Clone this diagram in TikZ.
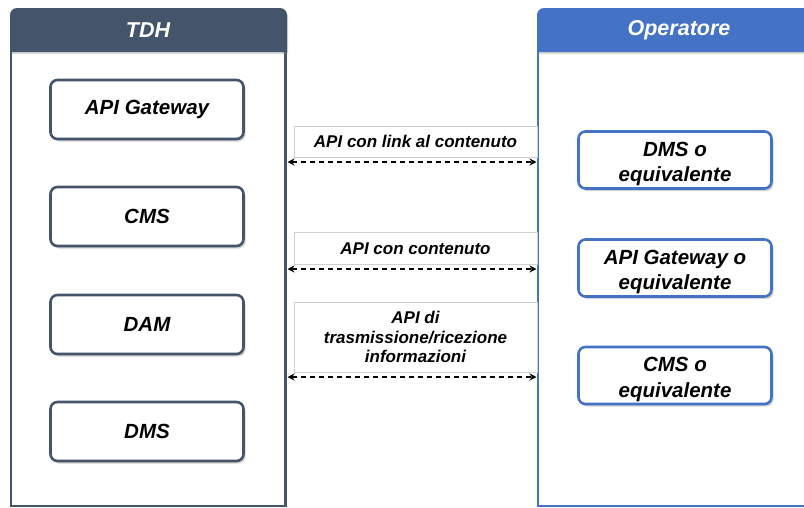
\documentclass[tikz,border=0pt]{standalone}
\usepackage{fontspec}
\setmainfont{Liberation Sans}
\usetikzlibrary{shadows,arrows.meta}
\definecolor{tdhc}{HTML}{44546A}
\definecolor{opc}{HTML}{4472C4}
\definecolor{lblc}{HTML}{D0D0D0}
\newcommand{\firstup}{\rule{0pt}{22pt}}
\begin{document}
\begin{tikzpicture}[x=1pt,y=-1pt,
  comp/.style={draw, line width=2.6pt, rounded corners=7pt, fill=white,
    minimum width=193pt, align=center, inner sep=0pt,
    font=\bfseries\itshape\fontsize{20.5}{25.5}\selectfont,
    drop shadow={shadow xshift=2pt, shadow yshift=-2.5pt, opacity=0.35}},
  lcomp/.style={comp, draw=tdhc, minimum height=59pt},
  rcomp/.style={comp, draw=opc, minimum height=57pt},
  lbl/.style={draw=lblc, line width=0.6pt, minimum width=243pt, align=center, inner sep=0pt,
    font=\bfseries\itshape\fontsize{17}{19.5}\selectfont},
  head/.style={text=white, font=\bfseries\itshape\fontsize{21.5}{24}\selectfont},
  link/.style={line width=1.9pt, dash pattern=on 5.5pt off 3.5pt, {Stealth[length=7pt,width=7pt]}-{Stealth[length=7pt,width=7pt]}}
]
\useasboundingbox (0,0) rectangle (804,507);
\clip (0,0) rectangle (804,507);
% TDH panel
\draw[tdhc, line width=2.4pt] (11,52) -- (11,506) -- (285.5,506) -- (285.5,52);
\fill[tdhc, drop shadow={shadow xshift=1pt, shadow yshift=-2pt, opacity=0.3}]
  (10,52) [rounded corners=7pt] -- (10,8) -- (287,8) [sharp corners] -- (287,52) -- cycle;
\node[head] (tdhhead) at (148,30) {TDH};
% Operatore panel
\draw[opc, line width=2.4pt] (538,52) -- (538,506) -- (820,506);
\fill[opc, drop shadow={shadow xshift=1pt, shadow yshift=-2pt, opacity=0.3}]
  (537,52) [rounded corners=7pt] -- (537,8) -- (822,8) [sharp corners] -- (822,52) -- cycle;
\node[head] (ophead) at (679,30) {Operatore};
% TDH components
\node[lcomp] (apigw) at (147,109.5) {API Gateway};
\node[lcomp] (cms) at (147,216.5) {CMS};
\node[lcomp] (dam) at (147,324.5) {DAM};
\node[lcomp] (dms) at (147,431.5) {DMS};
% Operatore components
\node[rcomp] (odms) at (675,160) {\firstup DMS o\\equivalente};
\node[rcomp] (oapigw) at (675,268) {\firstup API Gateway o\\equivalente};
\node[rcomp] (ocms) at (675,375.5) {\firstup CMS o\\equivalente};
% labels
\node[lbl, minimum height=31pt] (l1) at (415.5,141.5) {API con link al contenuto};
\node[lbl, minimum height=32pt] (l2) at (415.5,248.5) {API con contenuto};
\node[lbl, minimum height=70pt] (l3) at (415.5,337) {API di\\trasmissione/ricezione\\informazioni};
% connector ends
\coordinate (a1l) at (287.5,162);
\coordinate (a1r) at (536.5,162);
\coordinate (a2l) at (287.5,269);
\coordinate (a2r) at (536.5,269);
\coordinate (a3l) at (287.5,377);
\coordinate (a3r) at (536.5,377);
\draw[link] (a1l) -- (a1r);
\draw[link] (a2l) -- (a2r);
\draw[link] (a3l) -- (a3r);
\end{tikzpicture}
\end{document}
